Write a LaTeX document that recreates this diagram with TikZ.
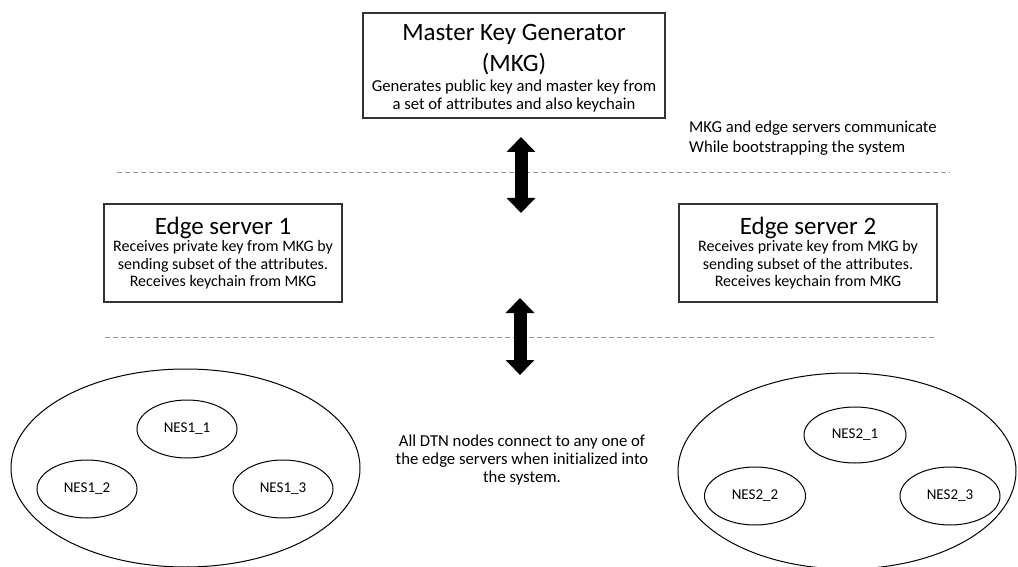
\documentclass[tikz,border=0pt]{standalone}
\usepackage{fontspec}
\setmainfont[Ligatures=NoCommon]{Carlito}
\usepackage{tikz}
\usetikzlibrary{arrows.meta}
\usetikzlibrary{shapes.geometric}

\newcommand{\ttlfont}{\fontsize{25}{30}\selectfont}
\newcommand{\txtfont}{\fontsize{16.7}{17.5}\selectfont}
\newcommand{\esfont}{\fontsize{16}{17.5}\selectfont}
\newcommand{\nesfont}{\fontsize{15}{18}\selectfont}

\begin{document}
\begin{tikzpicture}[x = 1pt, y = -1pt]
		\useasboundingbox (0, 0) rectangle (1018, 567);

		\begin{scope}[every node/.style={rectangle, draw = black!80, line width = 1.2pt, inner sep = 0pt, align = center, font = \txtfont}]
		\node (mkg) [minimum width = 302pt, minimum height = 105pt] at (514, 65.5) {\rule{0pt}{22pt}{\ttlfont Master Key Generator}\\[7pt] {\ttlfont (MKG)}\\[3pt] Generates public key and master key from\\ a set of attributes and also keychain};
		\node (es1) [minimum width = 238pt, minimum height = 98pt, font = \esfont] at (223, 253) {{\ttlfont Edge server 1}\\ Receives private key from MKG by\\ sending subset of the attributes.\\ Receives keychain from MKG};
		\node (es2) [minimum width = 258pt, minimum height = 98pt, font = \esfont] at (808, 253) {{\ttlfont Edge server 2}\\ Receives private key from MKG by\\ sending subset of the attributes.\\ Receives keychain from MKG};
		\end{scope}

		\begin{scope}[every node/.style={ellipse, draw, line width = 1pt, inner sep = 0pt, font = \nesfont}]
		\node (dtn1) [minimum width = 349pt, minimum height = 198pt] at (185.5, 468) {};
		\node (n11) [minimum width = 100pt, minimum height = 58pt] at (187, 429) {NES1\_1};
		\node (n12) [minimum width = 100pt, minimum height = 58pt] at (87, 489) {NES1\_2};
		\node (n13) [minimum width = 100pt, minimum height = 58pt] at (283, 489) {NES1\_3};

		\node (dtn2) [minimum width = 338pt, minimum height = 196pt] at (847, 471) {};
		\node (n21) [minimum width = 102pt, minimum height = 56pt] at (855, 435) {NES2\_1};
		\node (n22) [minimum width = 101pt, minimum height = 58pt] at (755, 496) {NES2\_2};
		\node (n23) [minimum width = 100pt, minimum height = 58pt] at (950, 496) {NES2\_3};
		\end{scope}

		\begin{scope}[every node/.style={inner sep = 0pt, font = \txtfont}]
		\node (note1) [anchor = north west, align = left, font = \fontsize{16.7}{20}\selectfont] at (689, 121) {MKG and edge servers communicate\\ While bootstrapping the system};
		\node (note2) [align = center, font = \fontsize{16.7}{18}\selectfont] at (522, 460) {All DTN nodes connect to any one of\\ the edge servers when initialized into\\ the system.};
		\end{scope}

		\coordinate (up1) at (521, 137);
		\coordinate (dn1) at (521, 213);
		\coordinate (up2) at (520, 298);
		\coordinate (dn2) at (520, 375);

		\draw [gray!80, line width = 1pt, dash pattern = on 5pt off 3pt] (117, 173) -- (950, 173);
		\draw [gray!80, line width = 1pt, dash pattern = on 5pt off 3pt] (105, 337) -- (937, 337);

		\begin{scope}[>={Triangle[length = 15pt, width = 28pt]}, line width = 13pt]
		\draw [<->] (up1) -- (dn1);
		\draw [<->] (up2) -- (dn2);
		\end{scope}

		\end{tikzpicture}
\end{document}
